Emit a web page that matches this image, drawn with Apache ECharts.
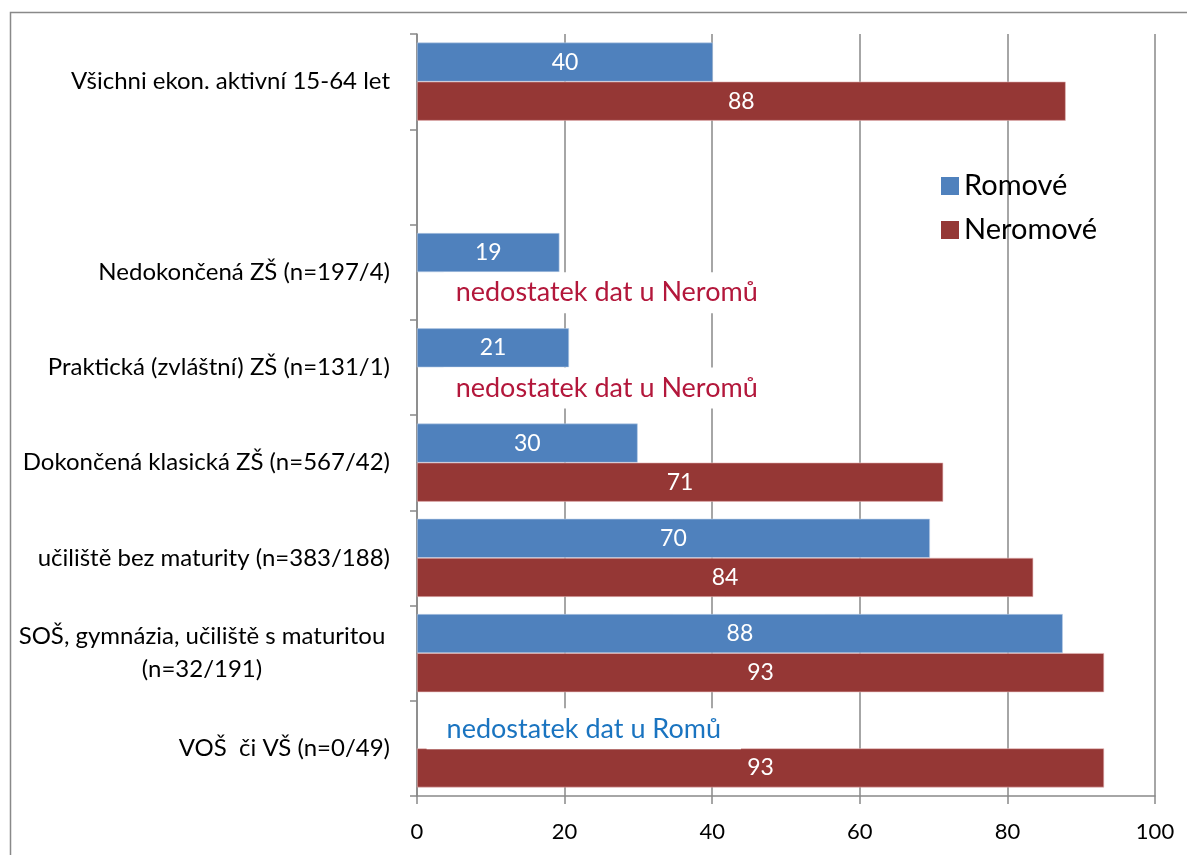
<!DOCTYPE html>
<html>
<head>
<meta charset="utf-8">
<script src="https://cdn.jsdelivr.net/npm/echarts@6/dist/echarts.min.js"></script>
<style>
  html, body { margin: 0; padding: 0; background: #fff; }
  #chart { width: 1187px; height: 855px; }
</style>
</head>
<body>
<div id="chart"></div>
<script>
const categories = [
  'Všichni ekon. aktivní 15-64 let',
  '',
  'Nedokončená ZŠ (n=197/4)',
  'Praktická (zvláštní) ZŠ (n=131/1)',
  'Dokončená klasická ZŠ (n=567/42)',
  'učiliště bez maturity (n=383/188)',
  'SOŠ, gymnázia, učiliště s maturitou\n(n=32/191)',
  'VOŠ  či VŠ (n=0/49)'
]
const romove = [40.1, null, 19.3, 20.6, 29.9, 69.5, 87.5, null]
const neromove = [87.9, null, null, null, 71.3, 83.5, 93.1, 93.1]
const xTicks = [0, 100, 20]
const noteNeromu = 'nedostatek dat u Neromů'
const noteRomu = 'nedostatek dat u Romů'

const font = 'Lato, "Open Sans", sans-serif'
const gray = '#898989'
const chart = echarts.init(document.getElementById('chart'))

chart.setOption({
  animation: false,
  textStyle: { fontFamily: font },
  graphic: [{
    type: 'rect',
    shape: { x: 10.5, y: 12.5, width: 1400, height: 1000 },
    style: { fill: 'none', stroke: gray, lineWidth: 1.5 },
    silent: true
  }],
  legend: {
    orient: 'vertical',
    left: 936,
    top: 164,
    icon: 'rect',
    itemWidth: 18,
    itemHeight: 18,
    itemGap: 10,
    itemStyle: { borderWidth: 0 },
    textStyle: { fontSize: 29, color: '#000', fontFamily: font, lineHeight: 34 },
    data: ['Romové', 'Neromové']
  },
  grid: { left: 417, right: 32, top: 34, bottom: 59 },
  xAxis: {
    type: 'value',
    min: xTicks[0],
    max: xTicks[1],
    interval: xTicks[2],
    axisLine: { show: true, lineStyle: { color: gray, width: 1.5 } },
    axisTick: { show: true, length: 8, lineStyle: { color: gray, width: 1.5 } },
    splitLine: { show: true, lineStyle: { color: gray, width: 1.5 } },
    axisLabel: { color: '#000', fontSize: 22, margin: 25, fontFamily: font }
  },
  yAxis: {
    type: 'category',
    inverse: true,
    data: categories,
    axisLine: { show: true, lineStyle: { color: gray, width: 1.5 } },
    axisTick: { show: true, length: 7, lineStyle: { color: gray, width: 1.5 } },
    axisLabel: {
      color: '#000',
      fontSize: 24,
      margin: 27,
      fontFamily: font,
      lineHeight: 33,
      formatter: function (v) {
        if (v.indexOf('\n') >= 0) return '{c|' + v + '}'
        return v
      },
      rich: {
        c: { width: 376, align: 'center', fontSize: 24, lineHeight: 33, color: '#000', fontFamily: font }
      }
    }
  },
  series: [
    {
      name: 'Romové',
      type: 'bar',
      data: romove,
      barGap: '0%',
      barCategoryGap: '18%',
      itemStyle: { color: '#4f81bd', borderColor: '#b9cde5', borderWidth: 0.6 },
      label: {
        show: true,
        position: 'inside',
        color: '#fff',
        fontSize: 23,
        fontFamily: font,
        formatter: function (p) { return Math.round(p.value) }
      },
      markPoint: {
        symbol: 'rect',
        symbolSize: 0,
        silent: true,
        label: {
          show: true,
          position: 'inside',
          color: '#1a74c0',
          fontSize: 27,
          fontFamily: font,
          backgroundColor: '#fff',
          padding: [7, 20]
        },
        data: [
          { coord: [22.6, 7], value: noteRomu, label: { formatter: noteRomu, offset: [0, 0] } }
        ]
      }
    },
    {
      name: 'Neromové',
      type: 'bar',
      data: neromove,
      barGap: '0%',
      barCategoryGap: '18%',
      itemStyle: { color: '#953735', borderColor: '#e6b9b8', borderWidth: 0.6 },
      label: {
        show: true,
        position: 'inside',
        color: '#fff',
        fontSize: 23,
        fontFamily: font,
        formatter: function (p) { return Math.round(p.value) }
      },
      markPoint: {
        symbol: 'rect',
        symbolSize: 0,
        silent: true,
        label: {
          show: true,
          position: 'inside',
          color: '#b3173b',
          fontSize: 27,
          fontFamily: font,
          backgroundColor: '#fff',
          padding: [7, 12],
          formatter: noteNeromu
        },
        data: [
          { coord: [25.7, 2], label: { offset: [0, 1] } },
          { coord: [25.7, 3], label: { offset: [0, 1] } }
        ]
      }
    }
  ]
})
</script>
</body>
</html>
